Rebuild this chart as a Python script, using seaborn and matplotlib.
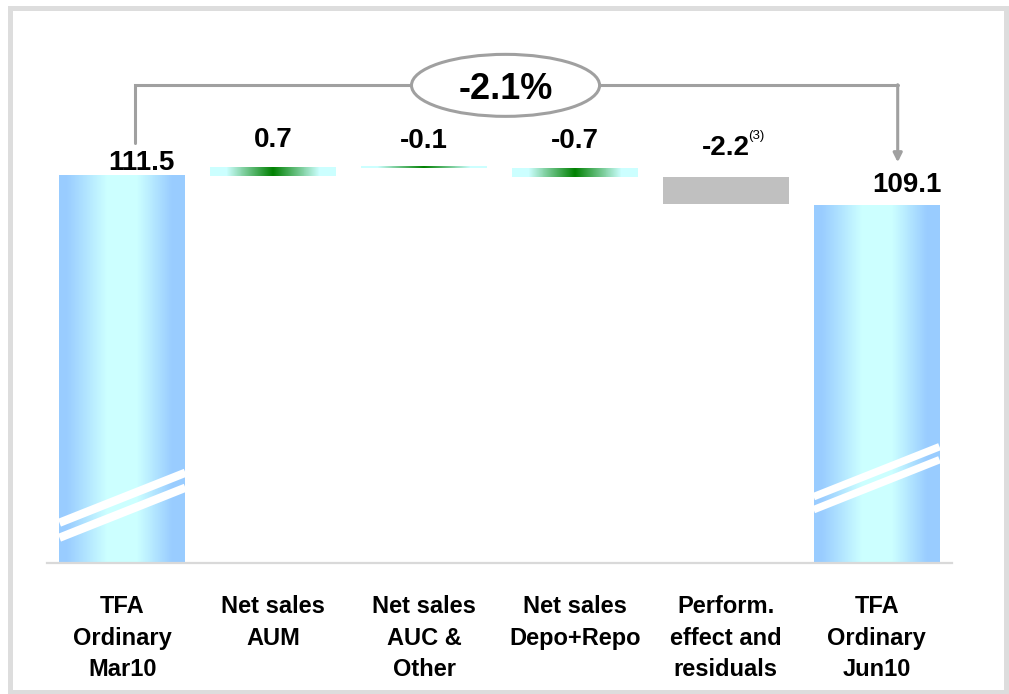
import numpy as np
import pandas as pd
import matplotlib
matplotlib.use("Agg")
import matplotlib.pyplot as plt
import seaborn as sns
from matplotlib.colors import LinearSegmentedColormap
from matplotlib.patches import Ellipse, Rectangle
from matplotlib.lines import Line2D

# ---- data -------------------------------------------------------------
categories = [
    "TFA\nOrdinary\nMar10",
    "Net sales\nAUM",
    "Net sales\nAUC &\nOther",
    "Net sales\nDepo+Repo",
    "Perform.\neffect and\nresiduals",
    "TFA\nOrdinary\nJun10",
]
start_total = 111.5
deltas = [0.7, -0.1, -0.7, -2.2]
end_total = 109.1
total_change_pct = -2.1
value_labels = ["111.5", "0.7", "-0.1", "-0.7", "-2.2", "109.1"]

# waterfall geometry: totals stand on zero, changes float on the running sum
heights, bottoms = [start_total], [0.0]
running = start_total
for d in deltas:
    bottoms.append(running)
    heights.append(d)
    running += d
heights.append(end_total)
bottoms.append(0.0)

df = pd.DataFrame({"cat": categories, "height": heights})

# ---- style ------------------------------------------------------------
sns.set_theme(style="white")
plt.rcParams["font.family"] = ["Liberation Sans", "DejaVu Sans"]

blue_grad = LinearSegmentedColormap.from_list(
    "blue_grad",
    [(0.0, "#99ccff"), (0.06, "#99ccff"), (0.38, "#ccffff"),
     (0.62, "#ccffff"), (0.9, "#99ccff"), (1.0, "#99ccff")])
green_grad = LinearSegmentedColormap.from_list(
    "green_grad",
    [(0.0, "#ccffff"), (0.13, "#ccffff"), (0.5, "#008000"),
     (0.87, "#ccffff"), (1.0, "#ccffff")])
bar_kinds = ["blue", "green", "green", "green", "gray", "blue"]
line_gray = "#a0a0a0"

# label offsets (points): (dx, dy above bar top)
label_offsets = [(13.7, 4.3), (0, 14.7), (0, 13.7), (0, 14.9), (0, 15.7), (21.6, 9.4)]

fig = plt.figure(figsize=(10.09, 6.94), dpi=100)
fig.patch.set_facecolor("white")
ax = fig.add_axes([47 / 1009, (694 - 563) / 694, 905 / 1009, (563 - 40) / 694])
ax.set_facecolor("white")

sns.barplot(data=df, x="cat", y="height", bottom=bottoms, width=0.835,
            color="#c0c0c0", linewidth=0, ax=ax, zorder=1)

y_lo, y_hi = 80.0, 122.55
grad = np.tile(np.linspace(0, 1, 256), (4, 1))
patches = list(ax.patches)
for patch, kind in zip(patches, bar_kinds):
    if kind == "gray":
        patch.set_facecolor("#c0c0c0")
        continue
    x0, w = patch.get_x(), patch.get_width()
    yb = patch.get_y()
    yt = yb + patch.get_height()
    lo, hi = max(min(yb, yt), y_lo), max(yb, yt)
    patch.set_facecolor("none")
    cmap = blue_grad if kind == "blue" else green_grad
    ax.imshow(grad, cmap=cmap, extent=[x0, x0 + w, lo, hi],
              aspect="auto", zorder=2, interpolation="nearest")

# axis-break stripes on the two total bars
px_per_unit = 523 / (y_hi - y_lo)
breaks = {0: (4.7, 15, 6.0), 5: (6.9, 13, 5.4)}
for idx, (mid, gap_px, lw) in breaks.items():
    patch = patches[idx]
    x0, w = patch.get_x(), patch.get_width()
    rise = 50 / px_per_unit
    for k in (-0.5, 0.5):
        yc = y_lo + mid - k * gap_px / px_per_unit
        xs = np.array([x0, x0 + w])
        ys = yc + (xs - (x0 + w / 2)) / w * rise
        ax.add_line(Line2D(xs, ys, color="white", lw=lw,
                           solid_capstyle="butt", zorder=3))

ax.set_xlim(-0.5, 5.5)
ax.set_ylim(y_lo, y_hi)

# value labels
for i, (txt, (dx, dy)) in enumerate(zip(value_labels, label_offsets)):
    top = max(bottoms[i], bottoms[i] + heights[i])
    t = ax.annotate(txt, xy=(i, top), xytext=(dx, dy), textcoords="offset points",
                    ha="center", va="baseline", fontsize=20, fontweight="bold",
                    color="black", zorder=5)
    if i == 4:
        ax.annotate("(3)", xy=(1, 1), xycoords=t, xytext=(-1.0, 3.5),
                    textcoords="offset points", ha="left", va="top",
                    fontsize=9.5, color="black")

# overall change connector with ellipse badge
conn_y = 118.86
x_left, x_right = 0.086, 5.14
ax.plot([x_left, x_left, x_right], [114.2, conn_y, conn_y],
        color=line_gray, lw=2.2, solid_joinstyle="miter", zorder=4, clip_on=False)
ax.annotate("", xy=(x_right, 112.6), xytext=(x_right, conn_y + 0.05),
            arrowprops=dict(arrowstyle="-|>", color=line_gray, lw=2.2,
                            mutation_scale=13, shrinkA=0, shrinkB=0),
            zorder=4)
ax.add_patch(Ellipse((2.54, conn_y), 1.247, 62 / px_per_unit, facecolor="white",
                     edgecolor=line_gray, lw=2.2, zorder=5, clip_on=False))
ax.text(2.545, conn_y - 0.35, f"{total_change_pct:.1f}%", ha="center", va="center",
        fontsize=26, fontweight="bold", color="black", zorder=6)

# axes cosmetics
ax.set_xlabel("")
ax.set_ylabel("")
ax.set_yticks([])
for s in ("top", "left", "right"):
    ax.spines[s].set_visible(False)
ax.spines["bottom"].set_color("#d9d9d9")
ax.spines["bottom"].set_linewidth(1.6)
ax.spines["bottom"].set_zorder(4)
ax.tick_params(axis="x", length=0, pad=23)
ax.set_xticks(range(len(categories)))
ax.set_xticklabels(categories, fontsize=17, fontweight="bold", color="black",
                   linespacing=1.48)

# outer frame
fig.patches.append(Rectangle((9.5 / 1009, 2 / 694), 996.5 / 1009, 684.5 / 694,
                             transform=fig.transFigure, fill=False,
                             edgecolor="#dddddd", lw=3.6, zorder=10))

fig.savefig("out.png", dpi=100, facecolor="white")
